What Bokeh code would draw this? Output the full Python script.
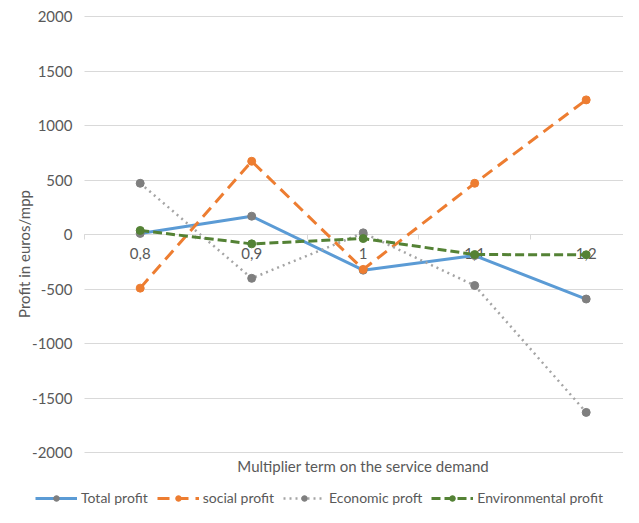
from bokeh.plotting import figure
from bokeh.models import (LinearAxis, FixedTicker, Legend, LegendItem, Label, Range1d)
from bokeh.embed import file_html
from bokeh.resources import INLINE

# ---- data ----
categories = ["0,8", "0,9", "1", "1,1", "1,2"]
total_profit = [10, 168, -327, -193, -592]
social_profit = [-492, 672, -320, 470, 1235]
economic_profit = [470, -402, 15, -468, -1632]
environmental_profit = [37, -86, -37, -184, -186]
series_names = ["Total profit", "social profit", "Economic proft", "Environmental profit"]
y_ticks = [-2000, -1500, -1000, -500, 0, 500, 1000, 1500, 2000]
y_tick_labels = ["-2000", "-1500", "-1000", "-500", "0", "500", "1000", "1500", "2000"]
x_title = "Multiplier term on the service demand"
y_title = "Profit in euros/mpp"

x = list(range(len(categories)))
FONT = "Lato"
FS = "15px"
TXT = "#595959"
GRID = "#d9d9d9"

# ---- layout (pixels on the 623 x 507 canvas) ----
W, H = 623, 507
cat_px, cat0_px = 111.5, 139.7          # spacing of categories, first category position
top_px, span_px = 16, 436               # y=2000 position, pixels from 2000 to -2000
ppu = span_px / 4000.0
x_start = -cat0_px / cat_px
x_end = (W - cat0_px) / cat_px
y_top = 2000 + top_px / ppu
y_bot = 2000 - (H - top_px) / ppu

p = figure(width=W, height=H, min_border=0, min_border_left=0, min_border_right=0,
           min_border_top=0, min_border_bottom=0,
           x_range=Range1d(x_start, x_end), y_range=Range1d(y_bot, y_top),
           x_axis_location=None, y_axis_location=None,
           output_backend="svg", toolbar_location=None,
           background_fill_color="white", border_fill_color="white")
p.outline_line_color = None
p.grid.visible = False

left_edge = -0.5  # left boundary of first category

ya = LinearAxis(fixed_location=left_edge, ticker=FixedTicker(ticks=y_ticks),
                major_label_overrides={t: s for t, s in zip(y_ticks, y_tick_labels)})
ya.level = "underlay"
ya.axis_line_color = None
ya.major_tick_line_color = GRID
ya.major_tick_in = 560
ya.major_tick_out = 0
ya.minor_tick_line_color = None
ya.minor_tick_in = 0
ya.minor_tick_out = 0
ya.major_label_standoff = 12
ya.major_label_text_font = FONT
ya.major_label_text_font_size = FS
ya.major_label_text_color = TXT
ya.axis_label = y_title
ya.axis_label_text_font = FONT
ya.axis_label_text_font_size = FS
ya.axis_label_text_font_style = "normal"
ya.axis_label_text_color = TXT
ya.axis_label_standoff = -4
p.add_layout(ya, "left")

xa = LinearAxis(fixed_location=0,
                ticker=FixedTicker(ticks=x, minor_ticks=[i - 0.5 for i in range(len(x) + 1)]),
                major_label_overrides={i: c for i, c in zip(x, categories)})
xa.level = "underlay"
xa.bounds = (left_edge, x_end)
xa.axis_line_color = GRID
xa.major_tick_line_color = None
xa.major_tick_out = 0
xa.major_tick_in = 0
xa.minor_tick_line_color = GRID
xa.minor_tick_out = 5
xa.minor_tick_in = 0
xa.major_label_standoff = 8
xa.major_label_text_font = FONT
xa.major_label_text_font_size = FS
xa.major_label_text_color = TXT
p.add_layout(xa, "below")

p.add_layout(Label(x=(len(x) - 1) / 2, y=2000 - (465 - top_px) / ppu, text=x_title,
                   text_align="center", text_baseline="middle",
                   text_font=FONT, text_font_size=FS, text_color=TXT))

colors = ["#5b9bd5", "#ed7d31", "#a5a5a5", "#548235"]
marker_colors = ["#7f7f7f", "#ed7d31", "#7f7f7f", "#548235"]
dashes = ["solid", "12 7", "2 4", "9 4"]
widths = [3, 3, 2.5, 3]
data = [total_profit, social_profit, economic_profit, environmental_profit]

items = []
for name, ys, c, mc, d, w in zip(series_names, data, colors, marker_colors, dashes, widths):
    r1 = p.line(x, ys, line_color=c, line_width=w, line_dash=d)
    r2 = p.scatter(x, ys, size=8, fill_color=mc, line_color=mc)
    items.append(LegendItem(label=name, renderers=[r1, r2]))

leg = Legend(items=items, orientation="horizontal", location=(35, 1),
             glyph_width=42, glyph_height=14, label_standoff=4, spacing=9,
             label_height=16, padding=0, margin=0, border_line_color=None,
             background_fill_alpha=0,
             label_text_font=FONT, label_text_font_size="14px", label_text_color=TXT)
p.add_layout(leg, "center")

open("out.html", "w").write(file_html(p, INLINE))
